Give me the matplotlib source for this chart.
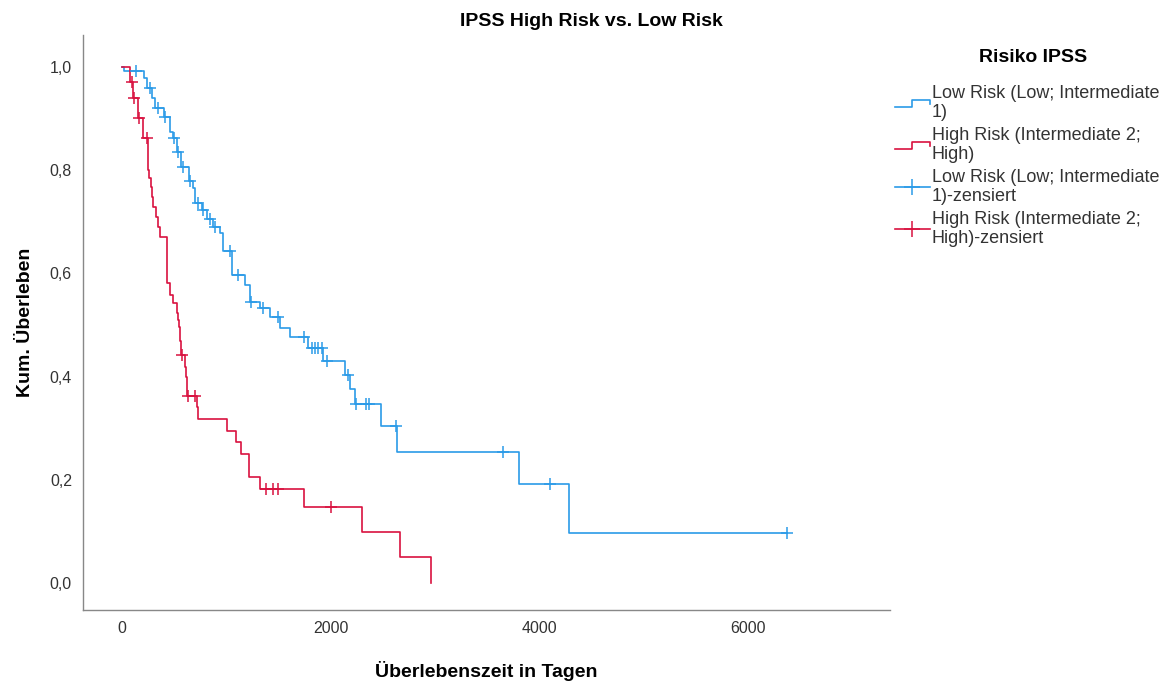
import matplotlib
matplotlib.use('Agg')
import matplotlib.pyplot as plt
import numpy as np
from matplotlib.lines import Line2D
from matplotlib.legend_handler import HandlerBase

plt.rcParams['font.family'] = ['Liberation Sans', 'DejaVu Sans']

# Kaplan-Meier Daten
low_t = [0, 20, 215, 240, 290, 316, 400, 460, 490, 527, 565, 640, 680, 700, 766, 815,
         872, 940, 968, 1054, 1180, 1227, 1322, 1418, 1514, 1610, 1783, 1927, 2137,
         2185, 2233, 2482, 2636, 3805, 4284]
low_s = [1.0, 0.993, 0.979, 0.959, 0.94, 0.92, 0.903, 0.874, 0.862, 0.835, 0.806, 0.779,
         0.765, 0.736, 0.723, 0.706, 0.690, 0.678, 0.643, 0.597, 0.578, 0.545, 0.533,
         0.515, 0.494, 0.477, 0.455, 0.430, 0.403, 0.376, 0.347, 0.304, 0.254, 0.192, 0.097]
low_end = 6374
low_cens = [134, 268, 345, 412, 500, 535, 580, 652, 730, 776, 843, 891, 1035, 1112, 1235,
            1350, 1495, 1744, 1821, 1850, 1879, 1917, 1965, 2166, 2243, 2339, 2367, 2626,
            3652, 4102, 6374]

high_t = [0, 77, 105, 150, 205, 245, 250, 255, 280, 290, 300, 325, 345, 365, 430, 435,
          460, 490, 525, 540, 545, 555, 565, 605, 615, 625, 715, 728, 1006, 1093, 1141,
          1217, 1323, 1744, 2300, 2665, 2962]
high_s = [1.0, 0.971, 0.94, 0.901, 0.862, 0.83, 0.80, 0.785, 0.767, 0.748, 0.729, 0.709,
          0.690, 0.671, 0.62, 0.581, 0.558, 0.543, 0.523, 0.51, 0.496, 0.47, 0.442, 0.419,
          0.40, 0.362, 0.341, 0.318, 0.295, 0.273, 0.25, 0.205, 0.182, 0.147, 0.099, 0.050, 0.0]
high_cens = [96, 115, 163, 235, 575, 633, 700, 1380, 1447, 1495, 2003]

labels = ['Low Risk (Low; Intermediate\n1)',
          'High Risk (Intermediate 2;\nHigh)',
          'Low Risk (Low; Intermediate\n1)-zensiert',
          'High Risk (Intermediate 2;\nHigh)-zensiert']

blau = '#2b9be8'
rot = '#d91240'


def surv_at(times, surv, t):
    i = np.searchsorted(times, t, side='right') - 1
    return np.array(surv)[i]


class StepHandler(HandlerBase):
    def create_artists(self, legend, orig_handle, xdescent, ydescent, width, height, fontsize, trans):
        xs = np.array([0, 0.5, 0.5, 1.0, 1.0]) * width - xdescent
        ys = np.array([0.15, 0.15, 0.75, 0.75, 0.4]) * height - ydescent
        l = Line2D(xs, ys, color=orig_handle.get_color(), lw=orig_handle.get_linewidth(),
                   transform=trans)
        return [l]


fig = plt.figure(figsize=(11.71, 6.82), dpi=100)
ax = fig.add_axes([0.0709, 0.1056, 0.689, 0.843])

x_low = low_t + [low_end]
y_low = low_s + [low_s[-1]]
l1, = ax.step(x_low, y_low, where='post', color=blau, lw=1.2)
l2, = ax.step(high_t, high_s, where='post', color=rot, lw=1.2)

c1, = ax.plot(low_cens, surv_at(low_t, low_s, low_cens), ls='none', marker='+',
              ms=9, mew=1.1, color=blau)
c2, = ax.plot(high_cens, surv_at(high_t, high_s, high_cens), ls='none', marker='+',
              ms=9, mew=1.1, color=rot)

ax.set_xlim(-374, 7360)
ax.set_ylim(-0.052, 1.062)
ax.set_xticks([0, 2000, 4000, 6000])
ax.set_yticks([0, 0.2, 0.4, 0.6, 0.8, 1.0])
ax.set_yticklabels(['0,0', '0,2', '0,4', '0,6', '0,8', '1,0'])
ax.tick_params(length=0, labelsize=11.5, labelcolor='#333333', pad=8)
for s in ['top', 'right']:
    ax.spines[s].set_visible(False)
for s in ['left', 'bottom']:
    ax.spines[s].set_color('#888888')
    ax.spines[s].set_linewidth(1.0)

ax.set_xlabel('Überlebenszeit in Tagen', fontsize=14, fontweight='bold', labelpad=18)
ax.set_ylabel('Kum. Überleben', fontsize=14, fontweight='bold', labelpad=11)
fig.text(0.505, 0.968, 'IPSS High Risk vs. Low Risk', ha='center', va='center',
         fontsize=14, fontweight='bold')

# Legende
fig.text(0.882, 0.916, 'Risiko IPSS', ha='center', va='center',
         fontsize=14, fontweight='bold')
h1 = Line2D([], [], color=blau, lw=1.2, marker='+', ms=11, mew=1.1)
h2 = Line2D([], [], color=rot, lw=1.2, marker='+', ms=11, mew=1.1)
leg = fig.legend([l1, l2, h1, h2], labels, loc='upper left',
                 bbox_to_anchor=(0.764, 0.876), frameon=False, fontsize=13,
                 borderpad=0, borderaxespad=0, handlelength=1.95,
                 handletextpad=0.1, labelspacing=0.3,
                 handler_map={l1: StepHandler(), l2: StepHandler()})
for t in leg.get_texts():
    t.set_color('#333333')
    t.set_linespacing(1.2)

fig.savefig('out.png', dpi=100)
